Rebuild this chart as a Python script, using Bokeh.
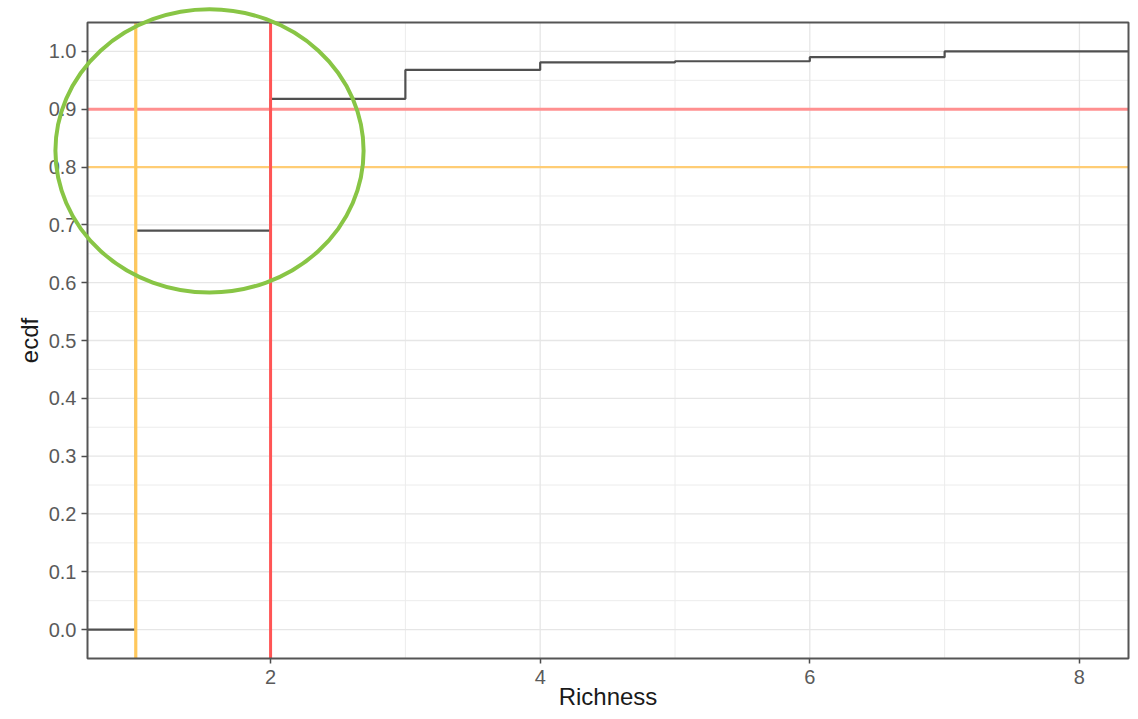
from bokeh.plotting import figure
from bokeh.models import FixedTicker, Range1d, BoxAnnotation
from bokeh.embed import file_html
from bokeh.resources import INLINE

# ---- data ----
richness = [1, 2, 3, 4, 5, 6, 7]
ecdf_vals = [0.69, 0.918, 0.968, 0.981, 0.983, 0.990, 1.0]
x_ticks = [2, 4, 6, 8]
x_minor = [1, 3, 5, 7]
y_ticks = [round(0.1 * i, 1) for i in range(11)]
y_minor = [round(-0.05 + 0.1 * i, 2) for i in range(12)]
h_lines = [(0.9, "#ff9090", 3.0), (0.8, "#ffcd75", 2.2)]
v_lines = [(1, "#ffc85c", 3.2), (2, "#ff5555", 3.0)]
ellipse_center = (1.547, 0.828)
ellipse_size = (2.286, 0.49)

# panel limits (data units)
X_LO, X_HI = 0.642, 8.364
Y_LO, Y_HI = -0.05, 1.05

# canvas layout (pixels)
W, H = 1130, 711
PANEL_L, PANEL_R, PANEL_T, PANEL_B = 87, 1128, 22, 658

sx = (PANEL_R - PANEL_L) / (X_HI - X_LO)
sy = (PANEL_B - PANEL_T) / (Y_HI - Y_LO)
x_range = Range1d(X_LO - PANEL_L / sx, X_HI + (W - PANEL_R) / sx)
y_range = Range1d(Y_LO - (H - PANEL_B) / sy, Y_HI + PANEL_T / sy)

FONT = "Liberation Sans"

p = figure(width=W, height=H, output_backend="svg", toolbar_location=None,
           x_range=x_range, y_range=y_range,
           min_border_left=0, min_border_right=0, min_border_top=0, min_border_bottom=0)
p.background_fill_color = "white"
p.border_fill_color = "white"
p.outline_line_color = None
p.grid.visible = False

# axes pinned to the panel edges
p.xaxis.fixed_location = Y_LO
p.yaxis.fixed_location = X_LO
p.xaxis.bounds = (X_LO, X_HI)
p.yaxis.bounds = (Y_LO, Y_HI)
p.xaxis.ticker = FixedTicker(ticks=x_ticks, minor_ticks=x_minor)
p.yaxis.ticker = FixedTicker(ticks=y_ticks, minor_ticks=y_minor)
p.yaxis.major_label_overrides = {t: f"{t:.1f}" for t in y_ticks}

for ax in (p.xaxis, p.yaxis):
    ax.axis_line_color = None
    ax.major_tick_line_color = "#4d4d4d"
    ax.major_tick_line_width = 1.5
    ax.major_tick_out = 6
    ax.major_tick_in = 0
    ax.minor_tick_line_color = None
    ax.major_label_text_font = FONT
    ax.major_label_text_font_size = "20px"
    ax.major_label_text_color = "#5a5a5a"
    ax.axis_label_text_font = FONT
    ax.axis_label_text_font_size = "24px"
    ax.axis_label_text_font_style = "normal"
    ax.axis_label_text_color = "#1a1a1a"

p.xaxis.axis_label = "Richness"
p.yaxis.axis_label = "ecdf"
p.xaxis.major_tick_out = 5
p.xaxis.major_label_standoff = 6
p.xaxis.axis_label_standoff = -4
p.yaxis.major_label_standoff = 5
p.yaxis.axis_label_standoff = 3

# grid lines (inside the panel only)
p.segment(x0=x_minor, x1=x_minor, y0=[Y_LO] * len(x_minor), y1=[Y_HI] * len(x_minor),
          line_color="#ececec", line_width=1.0)
p.segment(x0=[X_LO] * len(y_minor), x1=[X_HI] * len(y_minor), y0=y_minor, y1=y_minor,
          line_color="#ececec", line_width=1.0)
p.segment(x0=x_ticks, x1=x_ticks, y0=[Y_LO] * len(x_ticks), y1=[Y_HI] * len(x_ticks),
          line_color="#e6e6e6", line_width=1.3)
p.segment(x0=[X_LO] * len(y_ticks), x1=[X_HI] * len(y_ticks), y0=y_ticks, y1=y_ticks,
          line_color="#e6e6e6", line_width=1.3)

# ECDF step line
xs = [X_LO] + richness + [X_HI]
ys = [0.0] + ecdf_vals + [ecdf_vals[-1]]
p.step(xs, ys, mode="after", line_color="#505050", line_width=2.2)

# reference lines
for loc, col, w in h_lines:
    p.segment(x0=[X_LO], x1=[X_HI], y0=[loc], y1=[loc], line_color=col, line_width=w)
for loc, col, w in v_lines:
    p.segment(x0=[loc], x1=[loc], y0=[Y_LO], y1=[Y_HI], line_color=col, line_width=w)

# panel border
p.add_layout(BoxAnnotation(left=X_LO, right=X_HI, bottom=Y_LO, top=Y_HI,
                           fill_alpha=0, line_color="#555555", line_width=2, line_alpha=1))

# highlight ellipse
p.ellipse(x=[ellipse_center[0]], y=[ellipse_center[1]],
          width=ellipse_size[0], height=ellipse_size[1],
          fill_alpha=0, line_color="#88c545", line_width=4, level="overlay")

open("out.html", "w").write(file_html(p, INLINE))
